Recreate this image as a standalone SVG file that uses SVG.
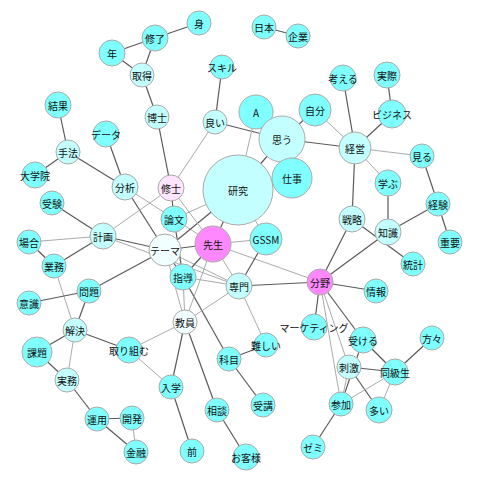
<svg xmlns="http://www.w3.org/2000/svg" width="480" height="480" viewBox="0 0 480 480">
<style>
.e{stroke:#5a5a5a;stroke-width:1.2;fill:none}
.l{stroke:#aaa;stroke-width:1;fill:none}
circle{stroke:#aaa;stroke-width:1}
.c{fill:#80ffff}
.p{fill:#c4ffff}
.w{fill:#f2ffff}
.k{fill:#ff88ff}
.q{fill:#ffe4ff}
text{font-family:"Noto Sans CJK JP","Noto Sans",sans-serif;font-size:10px;fill:#111;text-anchor:middle;dominant-baseline:central}
</style>
<rect width="480" height="480" fill="#fff"/>
<g id="edges">
<line class="e" x1="155" y1="38" x2="199" y2="23"/>
<line class="e" x1="155" y1="38" x2="112" y2="53"/>
<line class="e" x1="155" y1="38" x2="142" y2="75"/>
<line class="e" x1="112" y1="53" x2="142" y2="75"/>
<line class="e" x1="142" y1="75" x2="157" y2="117"/>
<line class="e" x1="157" y1="117" x2="171" y2="188"/>
<line class="e" x1="264" y1="27" x2="298" y2="36"/>
<line class="e" x1="222" y1="67" x2="215" y2="122"/>
<line class="e" x1="215" y1="122" x2="282" y2="139"/>
<line class="l" x1="215" y1="122" x2="171" y2="188"/>
<line class="l" x1="256" y1="112" x2="238" y2="190"/>
<line class="e" x1="315" y1="110" x2="282" y2="139"/>
<line class="e" x1="282" y1="139" x2="355" y2="148"/>
<line class="e" x1="282" y1="139" x2="238" y2="190"/>
<line class="l" x1="315" y1="110" x2="355" y2="148"/>
<line class="e" x1="343" y1="78" x2="355" y2="148"/>
<line class="e" x1="387" y1="75" x2="392" y2="114"/>
<line class="e" x1="392" y1="114" x2="355" y2="148"/>
<line class="l" x1="355" y1="148" x2="422" y2="156"/>
<line class="e" x1="422" y1="156" x2="438" y2="204"/>
<line class="e" x1="438" y1="204" x2="450" y2="242"/>
<line class="l" x1="355" y1="148" x2="388" y2="183"/>
<line class="e" x1="355" y1="148" x2="352" y2="219"/>
<line class="e" x1="388" y1="183" x2="388" y2="232"/>
<line class="e" x1="438" y1="204" x2="388" y2="232"/>
<line class="e" x1="352" y1="219" x2="413" y2="264"/>
<line class="e" x1="320" y1="282" x2="352" y2="219"/>
<line class="e" x1="320" y1="282" x2="388" y2="232"/>
<line class="e" x1="320" y1="282" x2="376" y2="291"/>
<line class="e" x1="320" y1="282" x2="239" y2="286"/>
<line class="l" x1="320" y1="282" x2="213" y2="244"/>
<line class="e" x1="266" y1="239" x2="239" y2="286"/>
<line class="l" x1="213" y1="244" x2="266" y2="239"/>
<line class="e" x1="320" y1="282" x2="314" y2="327"/>
<line class="l" x1="320" y1="282" x2="349" y2="367"/>
<line class="l" x1="320" y1="282" x2="341" y2="404"/>
<line class="e" x1="320" y1="282" x2="363" y2="340"/>
<line class="e" x1="363" y1="340" x2="395" y2="372"/>
<line class="e" x1="363" y1="340" x2="341" y2="404"/>
<line class="e" x1="349" y1="367" x2="395" y2="372"/>
<line class="e" x1="349" y1="367" x2="379" y2="410"/>
<line class="l" x1="349" y1="367" x2="341" y2="404"/>
<line class="e" x1="395" y1="372" x2="432" y2="338"/>
<line class="l" x1="395" y1="372" x2="379" y2="410"/>
<line class="l" x1="395" y1="372" x2="341" y2="404"/>
<line class="e" x1="341" y1="404" x2="313" y2="447"/>
<line class="e" x1="58" y1="105" x2="68" y2="152"/>
<line class="e" x1="68" y1="152" x2="35" y2="175"/>
<line class="e" x1="68" y1="152" x2="125" y2="187"/>
<line class="e" x1="106" y1="134" x2="125" y2="187"/>
<line class="e" x1="125" y1="187" x2="165" y2="250"/>
<line class="l" x1="125" y1="187" x2="213" y2="244"/>
<line class="l" x1="103" y1="236" x2="171" y2="188"/>
<line class="e" x1="103" y1="236" x2="165" y2="250"/>
<line class="l" x1="103" y1="236" x2="239" y2="286"/>
<line class="e" x1="52" y1="203" x2="103" y2="236"/>
<line class="l" x1="29" y1="242" x2="103" y2="236"/>
<line class="e" x1="29" y1="242" x2="54" y2="266"/>
<line class="e" x1="54" y1="266" x2="103" y2="236"/>
<line class="l" x1="54" y1="266" x2="75" y2="330"/>
<line class="e" x1="89" y1="291" x2="165" y2="250"/>
<line class="e" x1="89" y1="291" x2="29" y2="303"/>
<line class="e" x1="89" y1="291" x2="75" y2="330"/>
<line class="e" x1="75" y1="330" x2="37" y2="352"/>
<line class="l" x1="75" y1="330" x2="67" y2="380"/>
<line class="e" x1="37" y1="352" x2="67" y2="380"/>
<line class="e" x1="67" y1="380" x2="97" y2="419"/>
<line class="e" x1="97" y1="419" x2="132" y2="418"/>
<line class="e" x1="97" y1="419" x2="136" y2="452"/>
<line class="l" x1="132" y1="418" x2="136" y2="452"/>
<line class="e" x1="75" y1="330" x2="129" y2="350"/>
<line class="l" x1="129" y1="350" x2="185" y2="322"/>
<line class="l" x1="129" y1="350" x2="171" y2="387"/>
<line class="e" x1="185" y1="322" x2="171" y2="387"/>
<line class="e" x1="171" y1="387" x2="192" y2="451"/>
<line class="e" x1="185" y1="322" x2="217" y2="410"/>
<line class="e" x1="217" y1="410" x2="246" y2="457"/>
<line class="e" x1="183" y1="277" x2="229" y2="359"/>
<line class="e" x1="229" y1="359" x2="266" y2="345"/>
<line class="e" x1="229" y1="359" x2="263" y2="405"/>
<line class="l" x1="239" y1="286" x2="266" y2="345"/>
<line class="l" x1="183" y1="277" x2="185" y2="322"/>
<line class="l" x1="165" y1="250" x2="185" y2="322"/>
<line class="l" x1="213" y1="244" x2="185" y2="322"/>
<line class="l" x1="185" y1="322" x2="239" y2="286"/>
<line class="l" x1="165" y1="250" x2="239" y2="286"/>
<line class="l" x1="183" y1="277" x2="239" y2="286"/>
<line class="l" x1="213" y1="244" x2="239" y2="286"/>
<line class="e" x1="213" y1="244" x2="183" y2="277"/>
<line class="e" x1="165" y1="250" x2="183" y2="277"/>
<line class="e" x1="213" y1="244" x2="165" y2="250"/>
<line class="e" x1="238" y1="190" x2="213" y2="244"/>
<line class="l" x1="238" y1="190" x2="266" y2="239"/>
<line class="e" x1="165" y1="250" x2="238" y2="190"/>
<line class="e" x1="171" y1="188" x2="174" y2="219"/>
<line class="e" x1="174" y1="219" x2="183" y2="277"/>
<line class="l" x1="171" y1="188" x2="213" y2="244"/>
<line class="l" x1="174" y1="219" x2="238" y2="190"/>
</g>
<g id="n-mi"><circle class="c" cx="199" cy="23" r="12"/><text x="199" y="23">身</text></g>
<g id="n-shuuryou"><circle class="c" cx="155" cy="38" r="13"/><text x="155" y="38">修了</text></g>
<g id="n-nen"><circle class="c" cx="112" cy="53" r="13"/><text x="112" y="53">年</text></g>
<g id="n-shutoku"><circle class="p" cx="142" cy="75" r="12"/><text x="142" y="75">取得</text></g>
<g id="n-nihon"><circle class="c" cx="264" cy="27" r="12"/><text x="264" y="27">日本</text></g>
<g id="n-kigyou"><circle class="c" cx="298" cy="36" r="12"/><text x="298" y="36">企業</text></g>
<g id="n-skill"><circle class="c" cx="222" cy="67" r="12"/><text x="222" y="67">スキル</text></g>
<g id="n-hakase"><circle class="p" cx="157" cy="117" r="12"/><text x="157" y="117">博士</text></g>
<g id="n-yoi"><circle class="p" cx="215" cy="122" r="12"/><text x="215" y="122">良い</text></g>
<g id="n-a"><circle class="c" cx="256" cy="112" r="17"/><text x="256" y="112">A</text></g>
<g id="n-jibun"><circle class="c" cx="315" cy="110" r="16"/><text x="315" y="110">自分</text></g>
<g id="n-omou"><circle class="p" cx="282" cy="139" r="23"/><text x="282" y="139">思う</text></g>
<g id="n-kangaeru"><circle class="c" cx="343" cy="78" r="13"/><text x="343" y="78">考える</text></g>
<g id="n-jissai"><circle class="c" cx="387" cy="75" r="13"/><text x="387" y="75">実際</text></g>
<g id="n-business"><circle class="c" cx="392" cy="114" r="14"/><text x="392" y="114">ビジネス</text></g>
<g id="n-keiei"><circle class="p" cx="355" cy="148" r="16"/><text x="355" y="148">経営</text></g>
<g id="n-miru"><circle class="c" cx="422" cy="156" r="12"/><text x="422" y="156">見る</text></g>
<g id="n-kekka"><circle class="c" cx="58" cy="105" r="13"/><text x="58" y="105">結果</text></g>
<g id="n-data"><circle class="c" cx="106" cy="134" r="13"/><text x="106" y="134">データ</text></g>
<g id="n-shuhou"><circle class="p" cx="68" cy="152" r="12"/><text x="68" y="152">手法</text></g>
<g id="n-daigakuin"><circle class="c" cx="35" cy="175" r="13"/><text x="35" y="175">大学院</text></g>
<g id="n-bunseki"><circle class="p" cx="125" cy="187" r="13"/><text x="125" y="187">分析</text></g>
<g id="n-shuushi"><circle class="q" cx="171" cy="188" r="13"/><text x="171" y="188">修士</text></g>
<g id="n-kenkyuu"><circle class="p" cx="238" cy="190" r="35"/><text x="238" y="190">研究</text></g>
<g id="n-shigoto"><circle class="c" cx="292" cy="178" r="20"/><text x="292" y="178">仕事</text></g>
<g id="n-manabu"><circle class="c" cx="388" cy="183" r="13"/><text x="388" y="183">学ぶ</text></g>
<g id="n-keiken"><circle class="c" cx="438" cy="204" r="12"/><text x="438" y="204">経験</text></g>
<g id="n-juuyou"><circle class="c" cx="450" cy="242" r="12"/><text x="450" y="242">重要</text></g>
<g id="n-senryaku"><circle class="p" cx="352" cy="219" r="13"/><text x="352" y="219">戦略</text></g>
<g id="n-chishiki"><circle class="p" cx="388" cy="232" r="13"/><text x="388" y="232">知識</text></g>
<g id="n-toukei"><circle class="c" cx="413" cy="264" r="12"/><text x="413" y="264">統計</text></g>
<g id="n-juken"><circle class="c" cx="52" cy="203" r="12"/><text x="52" y="203">受験</text></g>
<g id="n-ronbun"><circle class="c" cx="174" cy="219" r="13"/><text x="174" y="219">論文</text></g>
<g id="n-sensei"><circle class="k" cx="213" cy="244" r="18"/><text x="213" y="244">先生</text></g>
<g id="n-gssm"><circle class="c" cx="266" cy="239" r="16"/><text x="266" y="239">GSSM</text></g>
<g id="n-keikaku"><circle class="p" cx="103" cy="236" r="13"/><text x="103" y="236">計画</text></g>
<g id="n-theme"><circle class="w" cx="165" cy="250" r="16"/><text x="165" y="250">テーマ</text></g>
<g id="n-baai"><circle class="c" cx="29" cy="242" r="12"/><text x="29" y="242">場合</text></g>
<g id="n-gyoumu"><circle class="c" cx="54" cy="266" r="12"/><text x="54" y="266">業務</text></g>
<g id="n-bunya"><circle class="k" cx="320" cy="282" r="13"/><text x="320" y="282">分野</text></g>
<g id="n-jouhou"><circle class="c" cx="376" cy="291" r="12"/><text x="376" y="291">情報</text></g>
<g id="n-shidou"><circle class="c" cx="183" cy="277" r="13"/><text x="183" y="277">指導</text></g>
<g id="n-senmon"><circle class="p" cx="239" cy="286" r="13"/><text x="239" y="286">専門</text></g>
<g id="n-mondai"><circle class="c" cx="89" cy="291" r="12"/><text x="89" y="291">問題</text></g>
<g id="n-ishiki"><circle class="c" cx="29" cy="303" r="12"/><text x="29" y="303">意識</text></g>
<g id="n-kyouin"><circle class="w" cx="185" cy="322" r="12"/><text x="185" y="322">教員</text></g>
<g id="n-kaiketsu"><circle class="p" cx="75" cy="330" r="12"/><text x="75" y="330">解決</text></g>
<g id="n-torikumu"><circle class="c" cx="129" cy="350" r="13"/><text x="129" y="350">取り組む</text></g>
<g id="n-marketing"><circle class="c" cx="314" cy="327" r="13"/><text x="314" y="327">マーケティング</text></g>
<g id="n-ukeru"><circle class="c" cx="363" cy="340" r="13"/><text x="363" y="340">受ける</text></g>
<g id="n-katagata"><circle class="c" cx="432" cy="338" r="12"/><text x="432" y="338">方々</text></g>
<g id="n-shigeki"><circle class="p" cx="349" cy="367" r="12"/><text x="349" y="367">刺激</text></g>
<g id="n-doukyuusei"><circle class="c" cx="395" cy="372" r="13"/><text x="395" y="372">同級生</text></g>
<g id="n-sanka"><circle class="c" cx="341" cy="404" r="12"/><text x="341" y="404">参加</text></g>
<g id="n-ooi"><circle class="c" cx="379" cy="410" r="13"/><text x="379" y="410">多い</text></g>
<g id="n-zemi"><circle class="c" cx="313" cy="447" r="12"/><text x="313" y="447">ゼミ</text></g>
<g id="n-kadai"><circle class="c" cx="37" cy="352" r="15"/><text x="37" y="352">課題</text></g>
<g id="n-jitsumu"><circle class="p" cx="67" cy="380" r="12"/><text x="67" y="380">実務</text></g>
<g id="n-unyou"><circle class="c" cx="97" cy="419" r="12"/><text x="97" y="419">運用</text></g>
<g id="n-kaihatsu"><circle class="c" cx="132" cy="418" r="12"/><text x="132" y="418">開発</text></g>
<g id="n-kinyuu"><circle class="c" cx="136" cy="452" r="12"/><text x="136" y="452">金融</text></g>
<g id="n-nyuugaku"><circle class="c" cx="171" cy="387" r="12"/><text x="171" y="387">入学</text></g>
<g id="n-mae"><circle class="c" cx="192" cy="451" r="12"/><text x="192" y="451">前</text></g>
<g id="n-soudan"><circle class="c" cx="217" cy="410" r="12"/><text x="217" y="410">相談</text></g>
<g id="n-okyakusama"><circle class="c" cx="246" cy="457" r="13"/><text x="246" y="457">お客様</text></g>
<g id="n-kamoku"><circle class="c" cx="229" cy="359" r="12"/><text x="229" y="359">科目</text></g>
<g id="n-muzukashii"><circle class="c" cx="266" cy="345" r="12"/><text x="266" y="345">難しい</text></g>
<g id="n-jukou"><circle class="c" cx="263" cy="405" r="12"/><text x="263" y="405">受講</text></g>
</svg>
